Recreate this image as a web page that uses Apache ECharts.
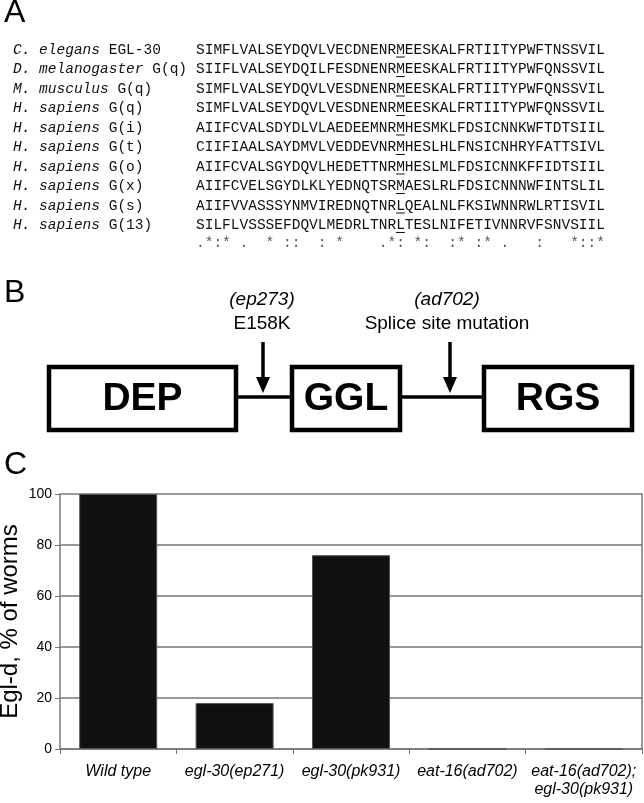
<!DOCTYPE html>
<html><head><meta charset="utf-8">
<script src="https://cdn.jsdelivr.net/npm/echarts@6/dist/echarts.min.js"></script>
<style>html,body{margin:0;padding:0;background:#fff}#c{width:644px;height:803px}</style>
</head><body><div id="c"></div>
<script>
// ---------- Panel A data ----------
const speciesNames = ['C. elegans','D. melanogaster','M. musculus','H. sapiens','H. sapiens','H. sapiens','H. sapiens','H. sapiens','H. sapiens','H. sapiens'];
const proteinNames = ['EGL-30','G(q)','G(q)','G(q)','G(i)','G(t)','G(o)','G(x)','G(s)','G(13)'];
const sequences = [
  'SIMFLVALSEYDQVLVECDNENRMEESKALFRTIITYPWFTNSSVIL',
  'SIIFLVALSEYDQILFESDNENRMEESKALFRTIITYPWFQNSSVIL',
  'SIMFLVALSEYDQVLVESDNENRMEESKALFRTIITYPWFQNSSVIL',
  'SIMFLVALSEYDQVLVESDNENRMEESKALFRTIITYPWFQNSSVIL',
  'AIIFCVALSDYDLVLAEDEEMNRMHESMKLFDSICNNKWFTDTSIIL',
  'CIIFIAALSAYDMVLVEDDEVNRMHESLHLFNSICNHRYFATTSIVL',
  'AIIFCVALSGYDQVLHEDETTNRMHESLMLFDSICNNKFFIDTSIIL',
  'AIIFCVELSGYDLKLYEDNQTSRMAESLRLFDSICNNNWFINTSLIL',
  'AIIFVVASSSYNMVIREDNQTNRLQEALNLFKSIWNNRWLRTISVIL',
  'SILFLVSSSEFDQVLMEDRLTNRLTESLNIFETIVNNRVFSNVSIIL'
];
const conservation = '.*:* .  * ::  : *    .*: *:  :* :* .   :   *::*';
const mutatedResidueIndex = 23;

// ---------- Panel B data ----------
const domains = ['DEP','GGL','RGS'];
const alleles = ['(ep273)','(ad702)'];
const changes = ['E158K','Splice site mutation'];

// ---------- Panel C data ----------
const categories = ['Wild type','egl-30(ep271)','egl-30(pk931)','eat-16(ad702)','eat-16(ad702);\negl-30(pk931)'];
const eglPercent = [100, 18, 76, 0, 0];
const yAxisName = 'Egl-d, % of worms';

const chart = echarts.init(document.getElementById('c'), null, {renderer:'canvas'});

const MONO = '"Courier New","Liberation Mono",monospace';
const SANS = 'Arial,"Liberation Sans",Helvetica,sans-serif';
const fs = 14.5, cw = fs*0.6;
const nameX = 13, seqX = 196, row0 = 50, rowH = 19.5;

const g = [];
// panel letters
[['A',4,14],['B',4,294],['C',4,466]].forEach(([t,x,y])=>{
  g.push({type:'text', left:x, top:y-17, style:{text:t, font:'32px '+SANS, fill:'#000'}});
});
// alignment
sequences.forEach((s,i)=>{
  const y = row0 + i*rowH;
  g.push({type:'text', x:nameX, y:y, style:{
    text:'{i|'+speciesNames[i]+'} '+proteinNames[i],
    fontFamily:MONO, fontSize:fs, fill:'#111', textVerticalAlign:'middle',
    rich:{i:{fontStyle:'italic', fontFamily:MONO, fontSize:fs, fill:'#111'}}
  }});
  g.push({type:'text', x:seqX, y:y, style:{text:s, fontFamily:MONO, fontSize:fs, fill:'#111', textVerticalAlign:'middle'}});
  const ux = seqX + mutatedResidueIndex*cw;
  g.push({type:'line', shape:{x1:ux, y1:y+7, x2:ux+cw, y2:y+7}, style:{stroke:'#111', lineWidth:1}});
});
g.push({type:'text', x:seqX, y:row0 + sequences.length*rowH - 2, style:{text:conservation, fontFamily:MONO, fontSize:fs, fill:'#555', textVerticalAlign:'middle'}});

// panel B diagram
const boxes = [[49,236],[292,400],[484,632]];
const boxTop = 367, boxBot = 430, midY = 397;
boxes.forEach(([x1,x2],i)=>{
  g.push({type:'rect', shape:{x:x1, y:boxTop, width:x2-x1, height:boxBot-boxTop}, style:{fill:'#fff', stroke:'#000', lineWidth:4.5}});
  g.push({type:'text', x:(x1+x2)/2, y:(boxTop+boxBot)/2+1, style:{text:domains[i], font:'bold 39px '+SANS, fill:'#000', textAlign:'center', textVerticalAlign:'middle'}});
});
g.push({type:'line', shape:{x1:238, y1:midY, x2:290, y2:midY}, style:{stroke:'#000', lineWidth:3.5}});
g.push({type:'line', shape:{x1:402, y1:midY, x2:482, y2:midY}, style:{stroke:'#000', lineWidth:3.5}});
[[263,262],[450,447]].forEach(([ax,tx],i)=>{
  g.push({type:'line', shape:{x1:ax, y1:342, x2:ax, y2:380}, style:{stroke:'#000', lineWidth:3.5}});
  g.push({type:'polygon', shape:{points:[[ax-7,377],[ax+7,377],[ax,393]]}, style:{fill:'#000'}});
  g.push({type:'text', x:tx, y:300, style:{text:alleles[i], font:'italic 19px '+SANS, fill:'#000', textAlign:'center', textVerticalAlign:'middle'}});
  g.push({type:'text', x:tx, y:324, style:{text:changes[i], font:'19px '+SANS, fill:'#000', textAlign:'center', textVerticalAlign:'middle'}});
});

chart.setOption({
  animation:false,
  backgroundColor:'#fff',
  grid:{left:60, right:2, top:494, bottom:54, containLabel:false, outerBoundsMode:'none'},
  xAxis:{type:'category', data:categories,
    axisLine:{lineStyle:{color:'#777', width:1.5}},
    axisTick:{show:true, length:5, lineStyle:{color:'#777'}},
    axisLabel:{interval:0, fontStyle:'italic', fontSize:16, color:'#000', fontFamily:SANS, margin:14, lineHeight:18}
  },
  yAxis:[{type:'value', min:0, max:100, interval:20,
    name:yAxisName, nameLocation:'middle', nameGap:38, nameRotate:90, nameMoveOverlap:false,
    nameTextStyle:{fontSize:24, fontFamily:SANS, color:'#000'},
    axisLine:{show:true, lineStyle:{color:'#777', width:1.5}},
    axisTick:{show:true, length:5, lineStyle:{color:'#777'}},
    axisLabel:{fontSize:14, color:'#000', fontFamily:SANS, margin:8},
    splitLine:{lineStyle:{color:'#777', width:1.5}}
  },{type:'value', min:0, max:100, interval:20, position:'right',
    axisLine:{show:true, lineStyle:{color:'#777', width:1.5}},
    axisTick:{show:false}, axisLabel:{show:false}, splitLine:{show:false}
  }],
  series:[{type:'bar', data:eglPercent, barWidth:'67%',
    itemStyle:{color:'#111', borderColor:'#555', borderWidth:1}}],
  graphic:g
});
</script></body></html>
